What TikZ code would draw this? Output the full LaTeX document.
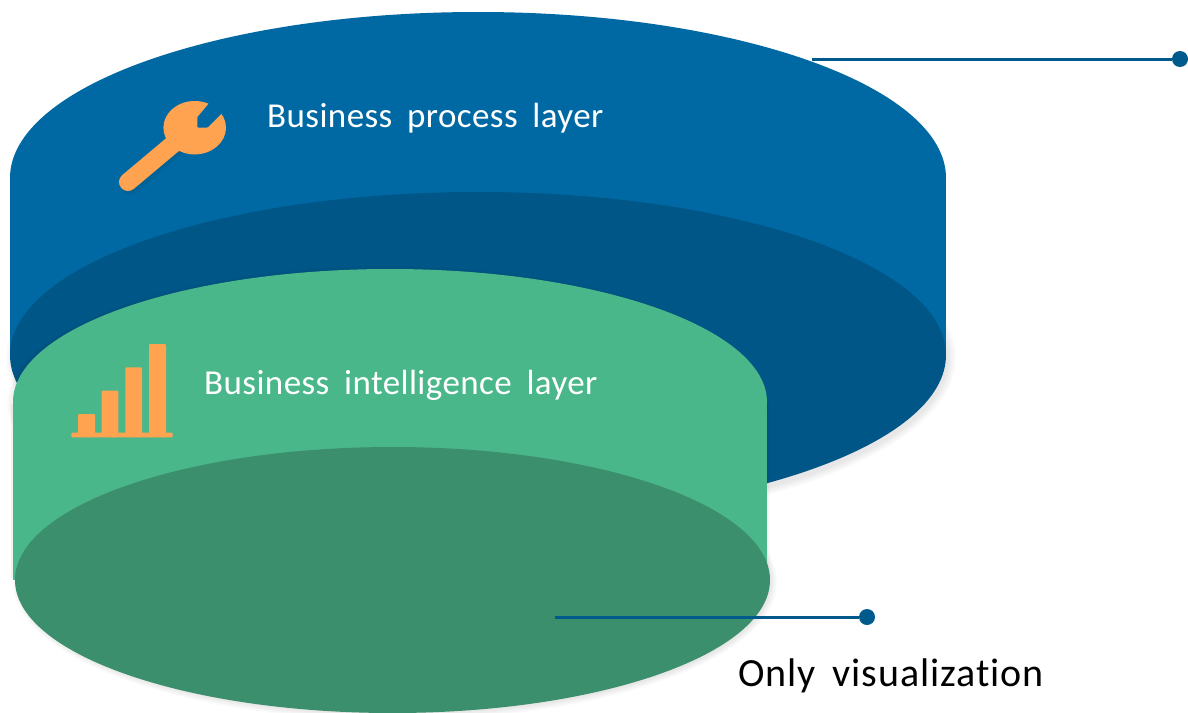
\documentclass[tikz,border=0pt]{standalone}
\usepackage{fontspec}
\setmainfont{Carlito}
\newfontfamily\spacedfont[LetterSpace=1.2,Ligatures=NoCommon]{Carlito}
\newfontfamily\widefont[LetterSpace=2.3,Ligatures=NoCommon]{Carlito}
\definecolor{blueside}{HTML}{0069A3}
\definecolor{bluedark}{HTML}{005686}
\definecolor{greenside}{HTML}{4AB78A}
\definecolor{greendark}{HTML}{3C8F6C}
\definecolor{iconorange}{HTML}{FFA351}
\definecolor{leader}{HTML}{005A8C}
\tikzset{
  label text/.style={anchor=base west,inner sep=0pt,font=\spacedfont\fontsize{35}{42}\selectfont,text=white},
  dark label/.style={label text,text=black,font=\widefont\fontsize{40}{48}\selectfont},
  leader line/.style={draw=leader,line width=3pt},
  leader dot/.style={circle,fill=leader,minimum size=16pt,inner sep=0pt},
  soft/.style={fill=black,opacity=0.015}
}
\newcommand{\wordgap}{\spaceskip=0.42em\relax}
\begin{document}
\begin{tikzpicture}[x=1pt,y=-1pt]
\useasboundingbox (0,0) rectangle (1188,712);
% soft shadows
\foreach \g in {1,...,6}{
  \fill[soft] (481,358) ellipse [x radius={466+\g*1.5 pt}, y radius={163+\g*1.5 pt}];
  \fill[soft] (395,582) ellipse [x radius={375+\g*1.2 pt}, y radius={131+\g*1.2 pt}];
}
% blue disc
\fill[blueside] (10,178) rectangle (946,355);
\fill[blueside] (478,178) ellipse [x radius=468pt, y radius=166pt];
\fill[bluedark] (478,355) ellipse [x radius=468pt, y radius=163pt];
% green disc
\foreach \g in {1,...,3}{
  \fill[soft] (388,404) ellipse [x radius={377+\g*1.2 pt}, y radius={134+\g*1.2 pt}];
  \fill[soft] (11,404) rectangle ({767+\g*1.0},578);
}
\fill[greenside] (13,402) rectangle (767,580);
\fill[greenside] (390,402) ellipse [x radius=377pt, y radius=133pt];
\fill[greendark] (392.5,580) ellipse [x radius=377.5pt, y radius=133pt];
% wrench
\foreach \g in {1,...,3}{
  \draw[black,opacity=0.02,line width={18+\g*1.5 pt},line cap=round] (130,184) -- (177,144);
}
\draw[iconorange,line width=18pt,line cap=round] (128,182) -- (178,140);
\fill[iconorange] (194.7,127.7) ellipse [x radius=31.3pt, y radius=26.7pt];
\fill[blueside,rounded corners=1pt] (209.3,103) -- (197.3,117.3) -- (197.3,127.7) -- (207.3,127.7) -- (220.7,114.5) -- (232,104) -- (225,92) -- cycle;
% chart
\fill[iconorange,rounded corners=1pt] (78,437) |- (95,414) -- (95,437) -- cycle;
\fill[iconorange,rounded corners=1pt] (101.7,437) |- (118.3,390.7) -- (118.3,437) -- cycle;
\fill[iconorange,rounded corners=1pt] (125.3,437) |- (142,367.3) -- (142,437) -- cycle;
\fill[iconorange,rounded corners=1pt] (149,437) |- (166,344) -- (166,437) -- cycle;
\fill[iconorange,rounded corners=1pt] (71.3,432.7) rectangle (172.7,437.3);
% leaders
\coordinate (topstart) at (812,59);
\node[leader dot] (topdot) at (1180,59) {};
\draw[leader line] (topstart) -- (topdot);
\coordinate (botstart) at (555,617);
\node[leader dot] (botdot) at (867,617) {};
\draw[leader line] (botstart) -- (botdot);
% labels
\node[label text] (bp) at (267,127) {\wordgap Business process layer};
\node[label text] (bi) at (204,394) {\wordgap Business intelligence layer};
\node[dark label] (ov) at (738,686) {\wordgap Only visualization};
\end{tikzpicture}
\end{document}
